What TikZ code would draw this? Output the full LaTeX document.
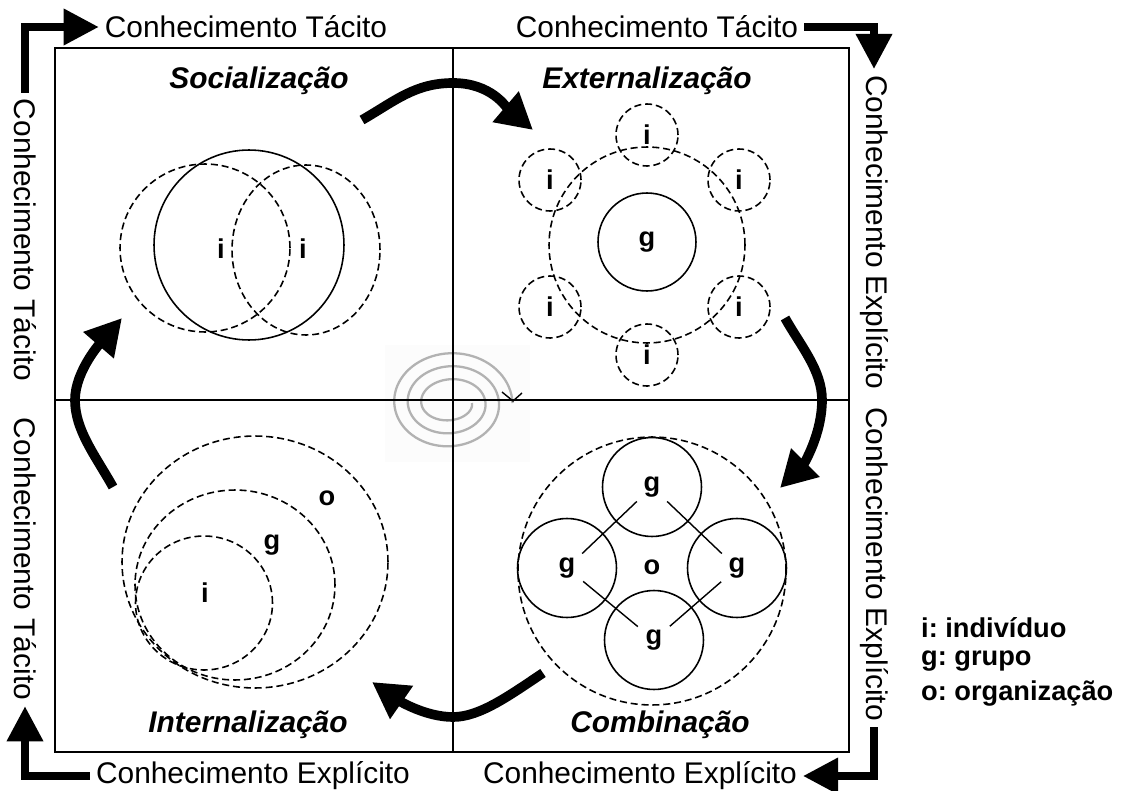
\documentclass[tikz,border=0pt]{standalone}
\usepackage{fontspec}
\setmainfont{Liberation Sans}
\usetikzlibrary{arrows.meta, positioning, shapes.geometric}

\begin{document}
\frenchspacing
\begin{tikzpicture}[x=0.02cm, y=-0.02cm,
    axis/.style={font=\fontsize{17}{19}\selectfont},
    quad/.style={font=\fontsize{17}{19}\selectfont\bfseries\itshape},
    lbl/.style={font=\fontsize{15.5}{17}\selectfont\bfseries},
    dring/.style={draw, ellipse, inner sep=0pt, line width=0.9pt, dash pattern=on 4pt off 2.2pt},
    sring/.style={draw, circle, inner sep=0pt, line width=0.9pt, lbl},
    corner/.style={line width=4pt, miter limit=10, -{Triangle[length=0.7cm, width=0.7cm]}},
    cyc/.style={line width=5.5pt, -{Triangle[length=0.72cm, width=0.76cm]}}]
    \useasboundingbox (0,0) rectangle (1127,791);

    % spiral in the middle
    \fill[gray!2] (385,345) rectangle (530,462);
    \draw[gray!60, line width=1.3pt] plot[domain=0:1080, samples=240, variable=\t]
        ({450+(22+\t/360*13.5)*cos(\t)}, {403+(14+\t/360*13)*sin(\t)});
    \draw[line width=0.8pt] (502,392) -- (513,401) -- (522,393);

    % quadrants
    \draw[line width=1.1pt] (55,48) rectangle (849,752);
    \draw[line width=0.9pt] (453,48) -- (453,752);
    \draw[line width=0.9pt] (55,400) -- (849,400);

    % axis texts
    \node[axis] (tt1) at (246,27) {Conhecimento Tácito};
    \node[axis] (tt2) at (657,27) {Conhecimento Tácito};
    \node[axis] (bt1) at (253,776) {Conhecimento Explícito};
    \node[axis] (bt2) at (640,776) {Conhecimento Explícito};
    \node[axis, rotate=-90] (lt1) at (25,240) {Conhecimento Tácito};
    \node[axis, rotate=-90] (lt2) at (25,559) {Conhecimento Tácito};
    \node[axis, rotate=-90] (rt1) at (874,232) {Conhecimento Explícito};
    \node[axis, rotate=-90] (rt2) at (874,564) {Conhecimento Explícito};

    % corner arrows
    \draw[corner] (lt1.west) |- (tt1.west);
    \draw[corner] (tt2.east) -| (rt1.west);
    \draw[corner] (rt2.east) |- (bt2.east);
    \draw[corner] (bt1.west) -| (lt2.east);

    % quadrant titles
    \node[quad] (soc) at (259,81) {Socialização};
    \node[quad] (ext) at (647,81) {Externalização};
    \node[quad] (int) at (248,725) {Internalização};
    \node[quad] (com) at (660,725) {Combinação};

    % Socializacao
    \node[dring, minimum width=3.4cm, minimum height=3.36cm] (si1) at (205,248) {};
    \node[dring, minimum width=2.96cm, minimum height=3.4cm] (si2) at (306,250) {};
    \node[draw, circle, line width=0.9pt, minimum size=3.8cm] (sg) at (249,245) {};
    \node[lbl] (si1l) at (221,249) {i};
    \node[lbl] (si2l) at (303,249) {i};

    % Externalizacao
    \node[dring, minimum size=3.92cm] (eg) at (647,245) {};
    \node[sring, minimum size=1.96cm] (eg0) at (647,242) {g};
    \foreach \n/\px/\py in {1/647/135, 2/739/180, 3/739/307, 4/647/355, 5/550/307, 6/550/180}
        \node[dring, lbl, minimum size=1.24cm] (ei\n) at (\px,\py) {i};

    % Combinacao
    \node[dring, minimum size=5.36cm] (co) at (652,571) {};
    \node[lbl] (col) at (652,567) {o};
    \node[sring, minimum size=1.98cm] (cgt) at (652,487) {g};
    \node[sring, minimum size=1.98cm] (cgl) at (567,568) {g};
    \node[sring, minimum size=1.98cm] (cgr) at (737,568) {g};
    \node[sring, minimum size=1.98cm] (cgb) at (654,640) {g};
    \draw[line width=0.8pt, shorten <=0.42cm, shorten >=0.42cm] (cgt.center) -- (cgl.center);
    \draw[line width=0.8pt, shorten <=0.42cm, shorten >=0.42cm] (cgt.center) -- (cgr.center);
    \draw[line width=0.8pt, shorten <=0.42cm, shorten >=0.42cm] (cgl.center) -- (cgb.center);
    \draw[line width=0.8pt, shorten <=0.42cm, shorten >=0.42cm] (cgr.center) -- (cgb.center);

    % Internalizacao
    \node[dring, minimum width=5.32cm, minimum height=5.04cm] (io) at (255,562) {};
    \node[dring, minimum width=4cm, minimum height=3.8cm] (ig) at (235,585) {};
    \node[dring, minimum width=2.74cm, minimum height=2.68cm] (ii) at (204,603) {};
    \node[lbl] (iol) at (327,498) {o};
    \node[lbl] (igl) at (272,545) {g};
    \node[lbl] (iil) at (205,593) {i};

    % cycle arrows
    \coordinate (a1) at (362,120);
    \coordinate (a2) at (453,83);
    \coordinate (a3) at (533,130);
    \coordinate (b1) at (785,318);
    \coordinate (b2) at (822,400);
    \coordinate (b3) at (780,488);
    \coordinate (c1) at (543,673);
    \coordinate (c2) at (453,717);
    \coordinate (c3) at (372,682);
    \coordinate (d1) at (113,487);
    \coordinate (d2) at (75,400);
    \coordinate (d3) at (122,318);
    \draw[cyc] (a1) .. controls (395,101) and (415,83) .. (a2) .. controls (491,83) and (506,107) .. (a3);
    \draw[cyc] (b1) .. controls (800,345) and (822,370) .. (b2) .. controls (822,435) and (803,465) .. (b3);
    \draw[cyc] (c1) .. controls (510,695) and (480,717) .. (c2) .. controls (425,717) and (398,700) .. (c3);
    \draw[cyc] (d1) .. controls (95,455) and (75,430) .. (d2) .. controls (75,370) and (103,340) .. (d3);

    % legend
    \node[lbl, anchor=west] (leg1) at (915,628) {i: indivíduo};
    \node[lbl, anchor=west] (leg2) at (915,661) {g: grupo};
    \node[lbl, anchor=west] (leg3) at (915,694) {o: organização};
\end{tikzpicture}
\end{document}
